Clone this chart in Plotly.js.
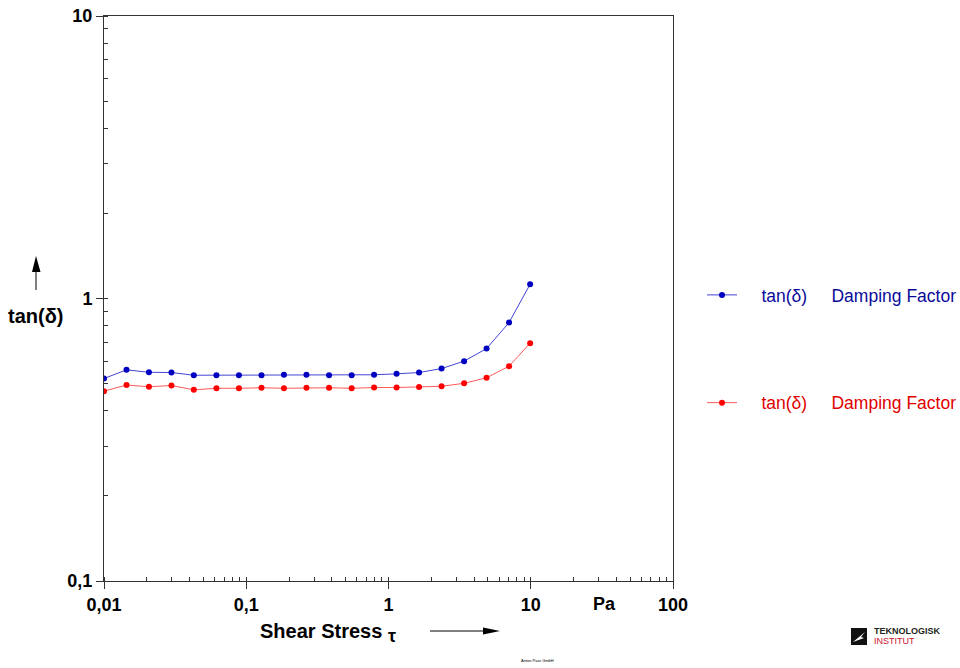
<!DOCTYPE html>
<html>
<head>
<meta charset="utf-8">
<script src="https://cdn.plot.ly/plotly-3.0.1.min.js"></script>
<style>html,body{margin:0;padding:0;background:#fff;}#chart{width:960px;height:668px;}</style>
</head>
<body>
<div id="chart"></div>
<script>
// ---- data ----
const shearStress = [0.01, 0.0144, 0.0207, 0.0298, 0.0428, 0.0617, 0.0888, 0.128, 0.184, 0.265, 0.382, 0.551, 0.792, 1.14, 1.64, 2.36, 3.40, 4.89, 7.04, 9.9];
const tanDeltaBlue = [0.521, 0.559, 0.548, 0.547, 0.535, 0.535, 0.535, 0.535, 0.537, 0.537, 0.535, 0.535, 0.537, 0.541, 0.547, 0.565, 0.600, 0.665, 0.822, 1.124];
const tanDeltaRed  = [0.470, 0.494, 0.487, 0.492, 0.475, 0.481, 0.481, 0.483, 0.481, 0.483, 0.483, 0.481, 0.484, 0.484, 0.486, 0.489, 0.501, 0.524, 0.576, 0.695];
const xTickVals = [0.01, 0.1, 1, 10, 100];
const xTickText = ['0,01', '0,1', '1', '10', '100'];
const yTickVals = [0.1, 1, 10];
const yTickText = ['0,1', '1', '10'];
const seriesName = 'tan(δ)';
const seriesDesc = 'Damping Factor';

// ---- layout helpers (pixel -> paper) ----
const L = 104, R = 673, T = 16, B = 581;
const px = v => (v - L) / (R - L);
const py = v => (B - v) / (B - T);
const FONT = 'Liberation Sans, Arial, sans-serif';
const NB = '\u00a0';

function legendLabel(color) {
  return '<span style="color:' + color + '">' + NB.repeat(4) + seriesName + NB.repeat(5) + seriesDesc + '</span>';
}

const traces = [
  {
    x: shearStress, y: tanDeltaBlue, type: 'scatter', mode: 'lines+markers',
    name: legendLabel('#0a0a9a'), legendgroup: 'a',
    line: {color: '#4444d4', width: 1},
    marker: {color: '#0000c0', size: 6}
  },
  {
    x: shearStress, y: tanDeltaRed, type: 'scatter', mode: 'lines+markers',
    name: legendLabel('#e00000'), legendgroup: 'b',
    line: {color: '#ff5a5a', width: 1},
    marker: {color: '#ff0000', size: 6}
  }
];

const axisCommon = {
  type: 'log', showgrid: false, zeroline: false,
  showline: true, linecolor: '#333', linewidth: 1, mirror: true,
  ticks: 'outside', ticklen: 7, tickcolor: '#333', tickwidth: 1,
  tickmode: 'array', automargin: false,
  tickfont: {family: FONT, size: 18, color: '#000', weight: 700},
  minor: {dtick: 'D1', ticks: 'inside', ticklen: 4, tickcolor: '#333', showgrid: false}
};

const shapes = [
  // up arrow next to y title
  {type: 'line', xref: 'paper', yref: 'paper', x0: px(36), x1: px(36), y0: py(290), y1: py(270), line: {color: '#000', width: 1}},
  {type: 'path', xref: 'paper', yref: 'paper',
   path: 'M ' + px(36) + ' ' + py(256) + ' L ' + px(32) + ' ' + py(272) + ' L ' + px(40.5) + ' ' + py(272) + ' Z',
   fillcolor: '#000', line: {color: '#000', width: 0}},
  // right arrow after x title
  {type: 'line', xref: 'paper', yref: 'paper', x0: px(430), x1: px(485), y0: py(631), y1: py(631), line: {color: '#000', width: 1}},
  {type: 'path', xref: 'paper', yref: 'paper',
   path: 'M ' + px(500) + ' ' + py(631) + ' L ' + px(483) + ' ' + py(627.5) + ' L ' + px(483) + ' ' + py(634.5) + ' Z',
   fillcolor: '#000', line: {color: '#000', width: 0}},
  // logo square
  {type: 'rect', xref: 'paper', yref: 'paper', x0: px(851), x1: px(867), y0: py(628), y1: py(645), fillcolor: '#111', line: {width: 0}},
  {type: 'path', xref: 'paper', yref: 'paper',
   path: 'M ' + px(853) + ' ' + py(642) + ' L ' + px(865) + ' ' + py(632) + ' L ' + px(861) + ' ' + py(637) + ' L ' + px(864) + ' ' + py(638) + ' Z',
   fillcolor: '#fff', line: {width: 0}}
];

const annotations = [
  {xref: 'paper', yref: 'paper', x: px(35), y: py(316), text: 'tan(δ)', showarrow: false,
   font: {family: FONT, size: 20, color: '#000', weight: 700}, xanchor: 'center', yanchor: 'middle'},
  {xref: 'paper', yref: 'paper', x: px(258), y: py(631), text: 'Shear Stress', showarrow: false,
   font: {family: FONT, size: 20, color: '#000', weight: 700}, xanchor: 'left', yanchor: 'middle'},
  {xref: 'paper', yref: 'paper', x: px(386), y: py(636), text: 'τ', showarrow: false,
   font: {family: FONT, size: 18, color: '#000', weight: 700}, xanchor: 'left', yanchor: 'middle'},
  {xref: 'paper', yref: 'paper', x: px(604), y: py(604), text: 'Pa', showarrow: false,
   font: {family: FONT, size: 18, color: '#000', weight: 700}, xanchor: 'center', yanchor: 'middle'},
  {xref: 'paper', yref: 'paper', x: px(537), y: py(660), text: 'Anton Paar GmbH', showarrow: false,
   font: {family: FONT, size: 4, color: '#000'}, xanchor: 'center', yanchor: 'middle'},
  {xref: 'paper', yref: 'paper', x: px(872), y: py(631.5), text: 'TEKNOLOGISK', showarrow: false,
   font: {family: FONT, size: 9, color: '#231f20', weight: 700}, xanchor: 'left', yanchor: 'middle'},
  {xref: 'paper', yref: 'paper', x: px(872), y: py(641), text: 'INSTITUT', showarrow: false,
   font: {family: FONT, size: 9, color: '#c8102e'}, xanchor: 'left', yanchor: 'middle'}
];

const layout = {
  width: 960, height: 668,
  margin: {l: L, r: 960 - R, t: T, b: 668 - B, pad: 0, autoexpand: false},
  paper_bgcolor: '#fff', plot_bgcolor: '#fff',
  showlegend: true,
  legend: {
    x: px(702), y: py(277), xanchor: 'left', yanchor: 'top',
    tracegroupgap: 82, traceorder: 'grouped',
    font: {family: FONT, size: 17.5},
    bgcolor: 'rgba(0,0,0,0)', borderwidth: 0
  },
  xaxis: Object.assign({}, axisCommon, {range: [-2, 2], tickvals: xTickVals, ticktext: xTickText}),
  yaxis: Object.assign({}, axisCommon, {range: [-1, 1], tickvals: yTickVals, ticktext: yTickText}),
  shapes: shapes,
  annotations: annotations
};

Plotly.newPlot('chart', traces, layout, {displayModeBar: false, staticPlot: true});
</script>
</body>
</html>
